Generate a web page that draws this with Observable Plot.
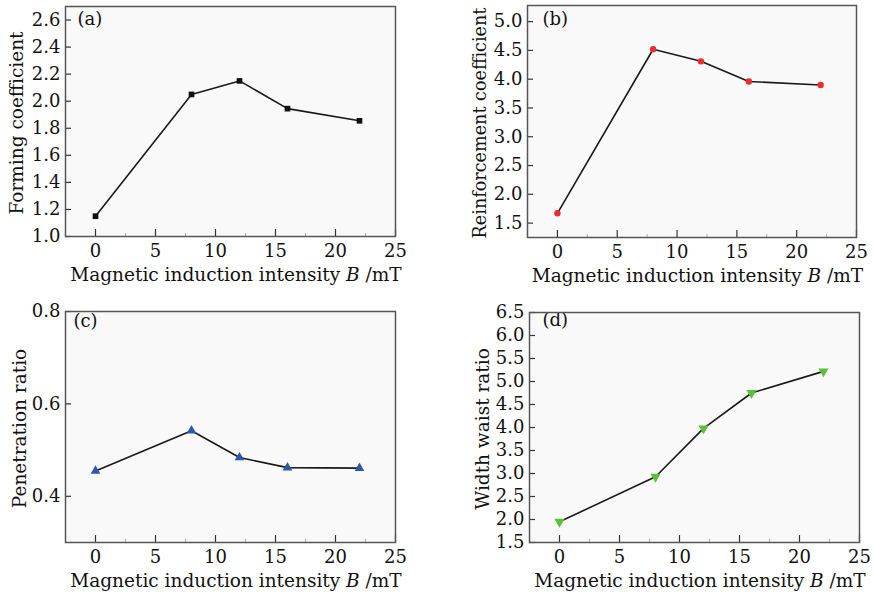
<!DOCTYPE html>
<html><head><meta charset="utf-8">
<script src="https://cdn.jsdelivr.net/npm/d3@7"></script>
<script src="https://cdn.jsdelivr.net/npm/@observablehq/plot@0.6"></script>
<style>
body{margin:0;background:#fff;}
#grid{display:grid;grid-template-columns:437px 437px;grid-template-rows:290px 306px;width:874px;height:596px;}
#grid svg{display:block}
</style></head><body><div id="grid"></div>
<script>
// ---- data ----
const B = [0, 8, 12, 16, 22];
const formingCoefficient = [1.15, 2.05, 2.15, 1.945, 1.855];
const reinforcementCoefficient = [1.67, 4.52, 4.31, 3.96, 3.90];
const penetrationRatio = [0.455, 0.542, 0.484, 0.462, 0.461];
const widthWaistRatio = [1.95, 2.93, 3.98, 4.75, 5.22];

const xTicks = [0, 5, 10, 15, 20, 25];
const xMinorTicks = [2.5, 7.5, 12.5, 17.5, 22.5];
const yTicksA = [1.0, 1.2, 1.4, 1.6, 1.8, 2.0, 2.2, 2.4, 2.6];
const yTicksB = [1.5, 2.0, 2.5, 3.0, 3.5, 4.0, 4.5, 5.0];
const yTicksC = [0.4, 0.6, 0.8];
const yTicksD = [1.5, 2.0, 2.5, 3.0, 3.5, 4.0, 4.5, 5.0, 5.5, 6.0, 6.5];

const panelLabels = ["(a)", "(b)", "(c)", "(d)"];
const yTitles = ["Forming coefficient", "Reinforcement coefficient", "Penetration ratio", "Width waist ratio"];
const xTitle = ["Magnetic induction intensity ", "B", " /mT"];

// ---- panel configuration (layout / style) ----
const panels = [
  {values: formingCoefficient, yTicks: yTicksA, yDomain: [1.0, 2.7], label: panelLabels[0], yTitle: yTitles[0],
   width: 437, height: 290, ml: 65, mr: 42, mt: 6, mb: 54, ytx: 16, ytSize: 18.5, ldx: 12, ldy: 13,
   symbol: "square", r: 3.2, fill: "#111", rotate: 0},
  {values: reinforcementCoefficient, yTicks: yTicksB, yDomain: [1.25, 5.28], label: panelLabels[1], yTitle: yTitles[1],
   width: 437, height: 290, ml: 90, mr: 18, mt: 5, mb: 53, ytx: 43, ytSize: 17.6, ldx: 15, ldy: 14,
   symbol: "circle", r: 3.2, fill: "#ee2a2a", rotate: 0},
  {values: penetrationRatio, yTicks: yTicksC, yDomain: [0.3, 0.8], label: panelLabels[2], yTitle: yTitles[2],
   width: 437, height: 306, ml: 65, mr: 42, mt: 21, mb: 54, ytx: 19, ytSize: 18.5, ldx: 8, ldy: 10,
   symbol: "triangle", r: 3.6, fill: "#2d58a8", rotate: 0},
  {values: widthWaistRatio, yTicks: yTicksD, yDomain: [1.5, 6.5], label: panelLabels[3], yTitle: yTitles[3],
   width: 437, height: 306, ml: 92, mr: 15, mt: 22, mb: 54, ytx: 45, ytSize: 18.5, ldx: 13, ldy: 8,
   symbol: "triangle", r: 3.8, fill: "#5cbf3a", rotate: 180}
];

const FONT = "DejaVu Serif";
const INK = "#111";
const grid = document.getElementById("grid");

for (const cfg of panels) {
  const plotW = cfg.width - cfg.ml - cfg.mr;
  const plotH = cfg.height - cfg.mt - cfg.mb;
  const data = B.map((b, i) => ({b, v: cfg.values[i]}));
  const svg = Plot.plot({
    width: cfg.width, height: cfg.height,
    marginLeft: cfg.ml, marginRight: cfg.mr, marginTop: cfg.mt, marginBottom: cfg.mb,
    style: {fontFamily: FONT, fontSize: "18px", color: INK, background: "transparent"},
    x: {domain: [-2.5, 25]},
    y: {domain: cfg.yDomain},
    marks: [
      Plot.frame({fill: "#f9f9f9", stroke: null}),
      Plot.axisX(xTicks, {tickSize: 0, tickPadding: 8, label: null, tickFormat: d => String(d), fontSize: 18, fill: INK}),
      Plot.axisY(cfg.yTicks, {tickSize: 0, tickPadding: 5, label: null, tickFormat: d3.format(".1f"), fontSize: 18, fill: INK}),
      Plot.tickX(xTicks, {x: d => d, insetTop: plotH - 7, stroke: "#333", strokeWidth: 1.2}),
      Plot.tickX(xMinorTicks, {x: d => d, insetTop: plotH - 3, stroke: "#aaa", strokeWidth: 1}),
      Plot.tickY(cfg.yTicks, {y: d => d, insetRight: plotW - 6, stroke: "#333", strokeWidth: 1.2}),
      Plot.line(data, {x: "b", y: "v", stroke: "#1a1a1a", strokeWidth: 1.6}),
      Plot.dot(data, {x: "b", y: "v", symbol: cfg.symbol, r: cfg.r, fill: cfg.fill, stroke: null, rotate: cfg.rotate}),
      Plot.text([cfg.label], {text: d => d, frameAnchor: "top-left", dx: cfg.ldx, dy: cfg.ldy, textAnchor: "start",
        lineAnchor: "middle", fontSize: 18, fill: INK}),
      Plot.frame({stroke: "#555", strokeWidth: 1.5})
    ]
  });
  const s = d3.select(svg);
  const xt = s.append("text")
    .attr("x", cfg.ml + plotW / 2 + 6).attr("y", cfg.mt + plotH + 38)
    .attr("text-anchor", "middle").attr("dominant-baseline", "central")
    .attr("font-family", FONT).attr("font-size", 18.5).attr("fill", INK);
  xt.append("tspan").text(xTitle[0]);
  xt.append("tspan").attr("font-style", "italic").text(xTitle[1]);
  xt.append("tspan").text(xTitle[2]);
  s.append("text")
    .attr("transform", `translate(${cfg.ytx},${cfg.mt + plotH / 2 + 2}) rotate(-90)`)
    .attr("text-anchor", "middle").attr("dominant-baseline", "central")
    .attr("font-family", FONT).attr("font-size", cfg.ytSize).attr("fill", INK)
    .text(cfg.yTitle);
  grid.appendChild(svg);
}
</script></body></html>
